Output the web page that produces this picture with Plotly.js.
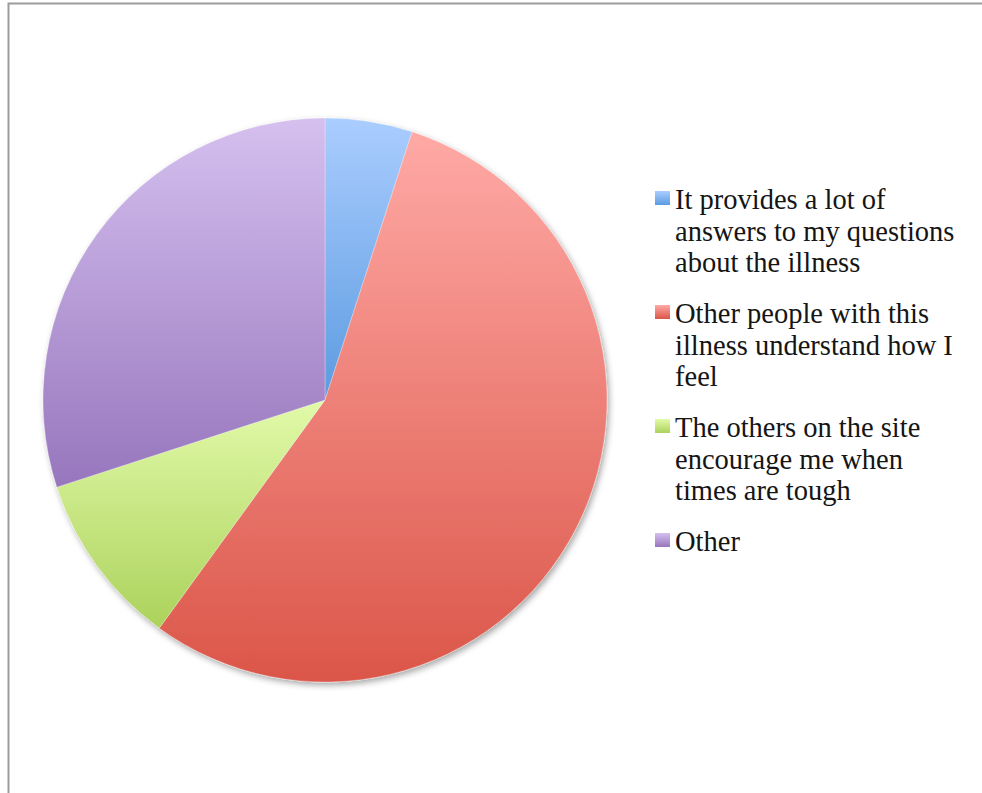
<!DOCTYPE html>
<html>
<head>
<meta charset="utf-8">
<script src="https://cdn.plot.ly/plotly-3.0.1.min.js"></script>
<style>
  html, body { margin: 0; padding: 0; background: #ffffff; }
  #chart { width: 982px; height: 793px; }
</style>
</head>
<body>
<div id="chart"></div>
<script>
// ---- data ----
const labelLines = [
  ["It provides a lot of", "answers to my questions", "about the illness"],
  ["Other people with this", "illness understand how I", "feel"],
  ["The others on the site", "encourage me when", "times are tough"],
  ["Other"]
];
const labels = labelLines.map(l => l.join(" "));
const values = [5, 55, 10, 30];

// ---- styles ----
const colorTop    = ["#abcdff", "#ffa9a5", "#e2faa9", "#d5c0ef"];
const colorBottom = ["#5b9be0", "#db5649", "#acd25c", "#9776bd"];
const colorMid    = ["#82b3f0", "#ee7f77", "#c6e683", "#b69bd6"];

const W = 982, H = 793;
const px = x => x / W;
const py = y => 1 - y / H;

// pie geometry (pixels)
const cx = 325, cy = 400, R = 282;

const trace = {
  type: "pie",
  labels: labels,
  values: values,
  sort: false,
  direction: "clockwise",
  rotation: 0,
  textinfo: "none",
  hoverinfo: "label+percent",
  showlegend: false,
  marker: {
    colors: colorMid,
    line: { color: "rgba(255,255,255,0.35)", width: 0.8 }
  },
  domain: {
    x: [px(cx - R), px(cx + R)],
    y: [py(cy + R), py(cy - R)]
  }
};

// legend drawn as annotations + swatches
const annotations = [];
const shapes = [];
const entryStep = 114, lineStep = 31.6, firstBaseline = 209;
labelLines.forEach((lines, i) => {
  lines.forEach((t, j) => {
    const base = firstBaseline + i * entryStep + j * lineStep;
    annotations.push({
      xref: "paper", yref: "paper",
      x: px(673), y: py(base - 9.5),
      xanchor: "left", yanchor: "middle",
      text: t, showarrow: false,
      font: { family: "Liberation Serif", size: 28.5, color: "#151515" }
    });
  });
  const top = 191 + i * entryStep;
  shapes.push({
    type: "rect", xref: "paper", yref: "paper",
    x0: px(655), x1: px(670), y0: py(top + 14), y1: py(top),
    fillcolor: colorMid[i], line: { width: 0 }
  });
});

// frame lines (top and left)
shapes.push({
  type: "path", xref: "paper", yref: "paper",
  path: `M ${px(8.5)} ${py(793)} L ${px(8.5)} ${py(3.5)} L ${px(982)} ${py(3.5)}`,
  line: { color: "#9c9c9c", width: 2 }
});

const layout = {
  width: W, height: H,
  margin: { l: 0, r: 0, t: 0, b: 0 },
  paper_bgcolor: "#ffffff",
  plot_bgcolor: "#ffffff",
  showlegend: false,
  annotations: annotations,
  shapes: shapes
};

Plotly.newPlot("chart", [trace], layout, { displayModeBar: false, staticPlot: true }).then(gd => {
  const svg = gd.querySelector(".main-svg");
  const NS = "http://www.w3.org/2000/svg";
  let defs = svg.querySelector("defs");
  if (!defs) { defs = document.createElementNS(NS, "defs"); svg.insertBefore(defs, svg.firstChild); }
  colorTop.forEach((c, i) => {
    const g = document.createElementNS(NS, "linearGradient");
    g.setAttribute("id", "sliceGrad" + i);
    g.setAttribute("x1", "0"); g.setAttribute("y1", "0");
    g.setAttribute("x2", "0"); g.setAttribute("y2", "1");
    const s1 = document.createElementNS(NS, "stop");
    s1.setAttribute("offset", "0"); s1.setAttribute("stop-color", c);
    const s2 = document.createElementNS(NS, "stop");
    s2.setAttribute("offset", "1"); s2.setAttribute("stop-color", colorBottom[i]);
    g.appendChild(s1); g.appendChild(s2);
    defs.appendChild(g);
  });
  const f = document.createElementNS(NS, "filter");
  f.setAttribute("id", "pieShadow");
  f.setAttribute("x", "-10%"); f.setAttribute("y", "-10%");
  f.setAttribute("width", "125%"); f.setAttribute("height", "125%");
  const ds = document.createElementNS(NS, "feDropShadow");
  ds.setAttribute("dx", "2"); ds.setAttribute("dy", "3");
  ds.setAttribute("stdDeviation", "3");
  ds.setAttribute("flood-color", "#000000");
  ds.setAttribute("flood-opacity", "0.35");
  f.appendChild(ds);
  defs.appendChild(f);

  gd.querySelectorAll(".slice path.surface").forEach((p, i) => {
    p.style.fill = "url(#sliceGrad" + i + ")";
  });
  const pieTrace = gd.querySelector(".pielayer .trace");
  if (pieTrace) pieTrace.style.filter = "url(#pieShadow)";
  const rects = gd.querySelectorAll(".shapelayer path");
  rects.forEach((p, i) => {
    if (i < colorTop.length) p.style.fill = "url(#sliceGrad" + i + ")";
  });
});
</script>
</body>
</html>
